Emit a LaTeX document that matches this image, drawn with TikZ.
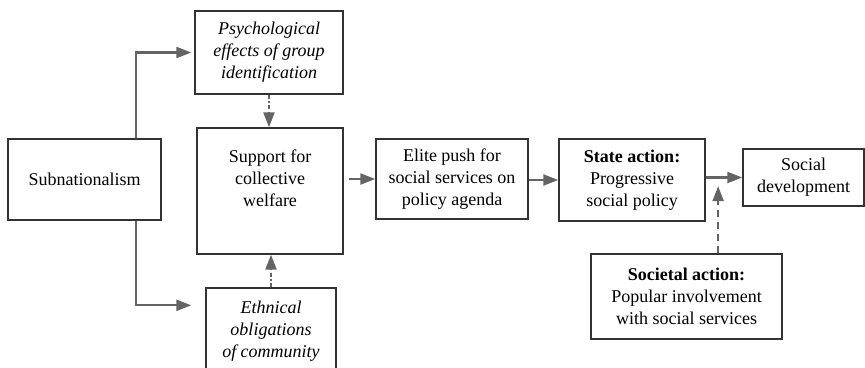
\documentclass[tikz,border=0pt]{standalone}
\usepackage{fontspec}
\setmainfont{Liberation Serif}
\usepackage{tikz}
\usetikzlibrary{arrows.meta, positioning, calc}

\definecolor{linkgray}{HTML}{646464}
\definecolor{boxgray}{HTML}{333333}

\begin{document}
\begin{tikzpicture}[x=1pt, y=-1pt, >={Triangle[length=15pt, width=11pt]},
    box/.style={draw=boxgray, line width=1.4pt, rectangle, align=center, inner sep=2pt,
                font=\fontsize{18}{22}\selectfont},
    link/.style={->, draw=linkgray, line width=2.2pt}]
    \useasboundingbox (0,0) rectangle (865,367);

    \node [box, minimum width=153pt, minimum height=81pt] (subnat) at (84.5,179.5) {Subnationalism};
    \node [box, minimum width=148pt, minimum height=83pt] (psych) at (269,52.5) {\itshape Psychological\\ \itshape effects of group\\ \itshape identification};
    \node [box, minimum width=146pt, minimum height=126pt] (support) at (270,191) {Support for\\ collective\\ welfare\\[4pt]};
    \node [box, minimum width=130pt, minimum height=86pt] (ethnical) at (271,331) {\itshape Ethnical\\ \itshape obligations\\ \itshape of community};

    \node [box, minimum width=152pt, minimum height=80pt] (elite) at (452,179) {Elite push for\\ social services on\\ policy agenda};
    \node [box, minimum width=146pt, minimum height=82pt] (state) at (632,180) {\textbf{State action:}\\ Progressive\\ social policy};
    \node [box, minimum width=121pt, minimum height=57pt] (socdev) at (803.5,177.5) {Social\\ development};
    \node [box, minimum width=191pt, minimum height=85pt] (societal) at (686.5,296.5) {\textbf{Societal action:}\\ Popular involvement\\ with social services};

    \coordinate (join) at ($(state.east)!0.34!(socdev.west)$);

    \draw [link, shorten >=3pt] ([xshift=51.5pt]subnat.north) |- (psych.west);
    \draw [link, shorten >=14pt] ([xshift=51.5pt]subnat.south) |- ([yshift=-18pt]ethnical.north west);
    \draw [link, dash pattern=on 4pt off 2.5pt on 1.5pt off 2.5pt] (psych.south) -- (psych.south |- support.north);
    \draw [link, dash pattern=on 4pt off 2.5pt on 1.5pt off 2.5pt] (ethnical.north) -- (ethnical.north |- support.south);
    \draw [link, shorten <=5pt] (support.east |- elite.west) -- (elite.west);
    \draw [link] (elite.east |- state.west) -- (state.west);
    \draw [link] (state.east |- socdev.west) -- (socdev.west);
    \draw [link, dash pattern=on 7pt off 5pt, shorten >=7pt] (societal.north -| join) -- (join);
\end{tikzpicture}
\end{document}
